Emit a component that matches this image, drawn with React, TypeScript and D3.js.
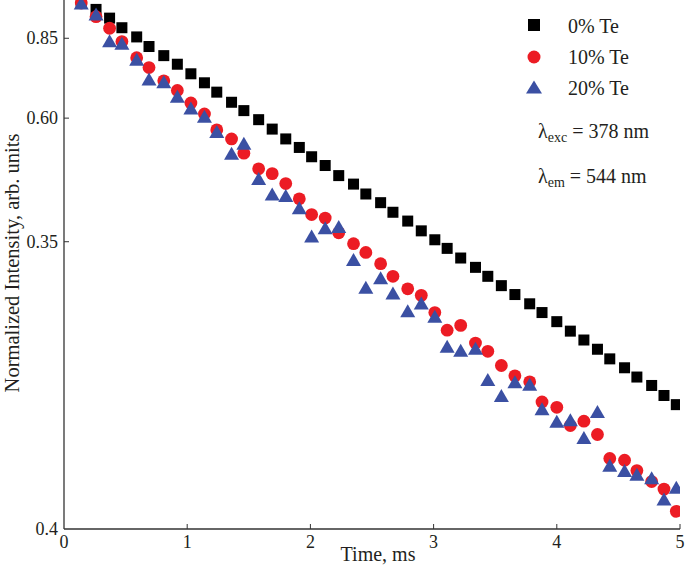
import React from "react";
import * as d3 from "d3";

const times = [0.14,0.26,0.37,0.47,0.59,0.69,0.81,0.92,1.03,1.14,1.24,1.36,1.46,1.58,1.69,1.80,1.91,2.01,2.12,2.23,2.35,2.45,2.57,2.67,2.79,2.90,3.01,3.11,3.22,3.34,3.44,3.55,3.66,3.78,3.88,4.00,4.11,4.22,4.33,4.43,4.55,4.65,4.77,4.87,4.97];

const te0 = [0.991,0.964,0.928,0.890,0.855,0.820,0.788,0.759,0.728,0.700,0.672,0.643,0.620,0.596,0.572,0.548,0.528,0.507,0.488,0.467,0.450,0.431,0.415,0.398,0.383,0.367,0.353,0.340,0.326,0.313,0.301,0.289,0.278,0.267,0.257,0.247,0.237,0.228,0.219,0.210,0.202,0.194,0.187,0.179,0.172];

const te10 = [0.991,0.934,0.888,0.838,0.781,0.748,0.706,0.677,0.641,0.611,0.570,0.548,0.515,0.481,0.471,0.451,0.422,0.394,0.388,0.364,0.347,0.334,0.318,0.301,0.285,0.277,0.257,0.238,0.243,0.225,0.217,0.204,0.195,0.190,0.174,0.170,0.157,0.160,0.151,0.136,0.135,0.129,0.123,0.119,0.108];

const te20 = [0.991,0.945,0.841,0.832,0.776,0.712,0.703,0.660,0.627,0.605,0.566,0.515,0.538,0.461,0.431,0.428,0.406,0.359,0.372,0.374,0.324,0.287,0.299,0.280,0.259,0.268,0.253,0.222,0.218,0.220,0.192,0.179,0.190,0.188,0.169,0.160,0.161,0.149,0.167,0.132,0.129,0.127,0.125,0.114,0.120];

const xTicks = [0, 1, 2, 3, 4, 5];
const yTickValues = [0.85, 0.6, 0.35, 0.1];
const yTickLabels = ["0.85", "0.60", "0.35", "0.4"];
const legendLabels = ["0% Te", "10% Te", "20% Te"];

const W = 685, H = 567;
const FONT = "'Liberation Serif', 'Times New Roman', serif";
const TXT = "#231f20";
const RED = "#ec1c24";
const BLUE = "#3b50a3";

export default function App() {
  const x = d3.scaleLinear().domain([0, 5]).range([64, 680]);
  const y = d3.scaleLog().domain([0.1, 1]).range([529, 1]);
  const tri = (cx: number, cy: number, w = 15, h = 13) =>
    `M${cx - w / 2},${cy + h / 2}L${cx},${cy - h / 2}L${cx + w / 2},${cy + h / 2}Z`;
  const sq = 11;

  return (
    <svg width={W} height={H} style={{ position: "absolute", left: 0, top: 0, background: "#fff" }} fontFamily={FONT}>
      <defs>
        <clipPath id="plot">
          <rect x={64} y={-10} width={616} height={545} />
        </clipPath>
      </defs>
      <rect width={W} height={H} fill="#fff" />
      <g clipPath="url(#plot)">
        {times.map((t, i) => (
          <rect key={"s" + i} x={x(t) - sq / 2} y={y(te0[i]) - sq / 2} width={sq} height={sq} fill="#000" />
        ))}
        {times.map((t, i) => (
          <circle key={"c" + i} cx={x(t)} cy={y(te10[i])} r={6.4} fill={RED} />
        ))}
        {times.map((t, i) => (
          <path key={"t" + i} d={tri(x(t), y(te20[i]))} fill={BLUE} />
        ))}
      </g>
      {/* axes */}
      <line x1={64} y1={0} x2={64} y2={529} stroke="#333" strokeWidth={1.3} />
      <line x1={64} y1={529} x2={680} y2={529} stroke="#333" strokeWidth={1.3} />
      {xTicks.map((t) => (
        <g key={"xt" + t}>
          {t > 0 && <line x1={x(t)} x2={x(t)} y1={529} y2={524} stroke="#333" strokeWidth={1} />}
          <text x={x(t)} y={548} textAnchor="middle" fontSize={18} fill={TXT}>{t}</text>
        </g>
      ))}
      {yTickValues.map((v, i) => (
        <g key={"yt" + i}>
          {i < 3 && <line x1={64} x2={69} y1={y(v)} y2={y(v)} stroke="#333" strokeWidth={1} />}
          <text x={58} y={y(v) + 6} textAnchor="end" fontSize={18} fill={TXT}>{yTickLabels[i]}</text>
        </g>
      ))}
      <text x={378} y={561} textAnchor="middle" fontSize={20} fill={TXT}>Time, ms</text>
      <text transform="translate(19,263) rotate(-90)" textAnchor="middle" fontSize={20.5} fill={TXT}>
        Normalized Intensity, arb. units
      </text>
      {/* legend */}
      <rect x={534 - 6} y={25 - 6} width={12} height={12} fill="#000" />
      <circle cx={534} cy={57} r={6.5} fill={RED} />
      <path d={tri(534, 87, 16, 13)} fill={BLUE} />
      {legendLabels.map((l, i) => (
        <text key={l} x={568} y={[33, 64, 95][i]} fontSize={20} fill={TXT}>{l}</text>
      ))}
      <text x={538} y={138} fontSize={20} fill={TXT}>
        λ<tspan fontSize={14} dy={4}>exc</tspan><tspan dy={-4}> = 378 nm</tspan>
      </text>
      <text x={538} y={183} fontSize={20} fill={TXT}>
        λ<tspan fontSize={14} dy={4}>em</tspan><tspan dy={-4}> = 544 nm</tspan>
      </text>
    </svg>
  );
}
